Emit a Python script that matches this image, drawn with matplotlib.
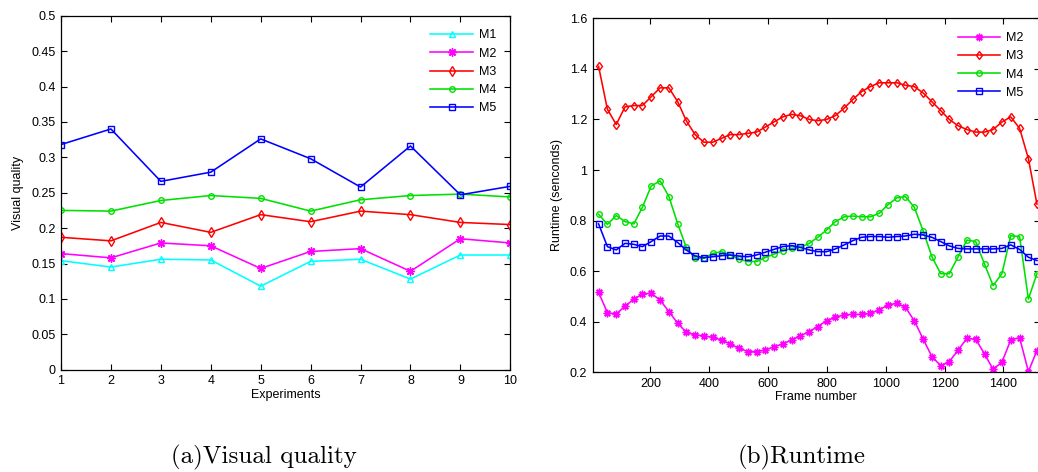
import matplotlib
matplotlib.use("Agg")
import matplotlib.pyplot as plt

# ---------------- data: (a) Visual quality ----------------
experiments = [1, 2, 3, 4, 5, 6, 7, 8, 9, 10]
vq_M1 = [0.154, 0.145, 0.156, 0.155, 0.118, 0.153, 0.156, 0.128, 0.162, 0.162]
vq_M2 = [0.164, 0.158, 0.179, 0.175, 0.143, 0.167, 0.171, 0.139, 0.185, 0.179]
vq_M3 = [0.187, 0.182, 0.208, 0.194, 0.219, 0.209, 0.224, 0.219, 0.208, 0.205]
vq_M4 = [0.225, 0.224, 0.239, 0.246, 0.242, 0.224, 0.240, 0.246, 0.248, 0.244]
vq_M5 = [0.318, 0.340, 0.266, 0.279, 0.326, 0.298, 0.258, 0.316, 0.247, 0.259]

# ---------------- data: (b) Runtime ----------------
frames = [24, 54, 84, 114, 144, 173, 203, 233, 263, 293, 322, 352, 382, 412, 442,
          471, 501, 531, 561, 591, 620, 650, 680, 710, 740, 769, 799, 829, 859, 889,
          918, 948, 978, 1008, 1038, 1067, 1097, 1127, 1157, 1187, 1216, 1246, 1276,
          1306, 1336, 1365, 1395, 1425, 1455, 1485, 1514]
rt_M2 = [0.516, 0.436, 0.430, 0.462, 0.489, 0.510, 0.512, 0.486, 0.440, 0.394,
         0.358, 0.348, 0.344, 0.338, 0.328, 0.312, 0.295, 0.282, 0.282, 0.288,
         0.301, 0.312, 0.328, 0.344, 0.361, 0.381, 0.404, 0.418, 0.427, 0.429,
         0.429, 0.433, 0.447, 0.466, 0.473, 0.457, 0.404, 0.332, 0.262, 0.226,
         0.242, 0.288, 0.334, 0.331, 0.272, 0.212, 0.240, 0.328, 0.337, 0.203, 0.286]
rt_M3 = [1.41, 1.24, 1.18, 1.25, 1.255, 1.255, 1.29, 1.325, 1.325, 1.27,
         1.195, 1.14, 1.11, 1.11, 1.125, 1.14, 1.14, 1.145, 1.15, 1.17,
         1.19, 1.21, 1.22, 1.215, 1.20, 1.195, 1.20, 1.215, 1.245, 1.28,
         1.31, 1.33, 1.345, 1.345, 1.345, 1.335, 1.33, 1.305, 1.27, 1.235,
         1.20, 1.175, 1.16, 1.15, 1.15, 1.16, 1.19, 1.21, 1.165, 1.045, 0.865]
rt_M4 = [0.825, 0.785, 0.820, 0.796, 0.787, 0.853, 0.937, 0.957, 0.895, 0.787,
         0.694, 0.651, 0.651, 0.670, 0.677, 0.664, 0.648, 0.638, 0.638, 0.654,
         0.667, 0.680, 0.690, 0.694, 0.710, 0.734, 0.763, 0.796, 0.815, 0.818,
         0.815, 0.815, 0.829, 0.863, 0.890, 0.895, 0.853, 0.760, 0.657, 0.590,
         0.590, 0.657, 0.723, 0.717, 0.627, 0.543, 0.590, 0.740, 0.737, 0.490, 0.590]
rt_M5 = [0.787, 0.697, 0.684, 0.710, 0.706, 0.697, 0.717, 0.739, 0.739, 0.713,
         0.684, 0.660, 0.653, 0.657, 0.661, 0.664, 0.660, 0.657, 0.664, 0.675,
         0.686, 0.697, 0.701, 0.694, 0.684, 0.677, 0.677, 0.688, 0.704, 0.721,
         0.734, 0.737, 0.737, 0.734, 0.737, 0.739, 0.746, 0.743, 0.734, 0.717,
         0.700, 0.690, 0.688, 0.688, 0.688, 0.688, 0.690, 0.704, 0.686, 0.655, 0.642]

left_yticks = [0, 0.05, 0.1, 0.15, 0.2, 0.25, 0.3, 0.35, 0.4, 0.45, 0.5]
left_yticklabels = ["0", "0.05", "0.1", "0.15", "0.2", "0.25", "0.3", "0.35", "0.4", "0.45", "0.5"]
right_yticks = [0.2, 0.4, 0.6, 0.8, 1.0, 1.2, 1.4, 1.6]
right_yticklabels = ["0.2", "0.4", "0.6", "0.8", "1", "1.2", "1.4", "1.6"]
right_xticks = [200, 400, 600, 800, 1000, 1200, 1400]

plt.rcParams['font.family'] = ['Liberation Sans', 'DejaVu Sans']
FS = 9

W, H = 1038, 472
fig = plt.figure(figsize=(W / 100, H / 100), dpi=100)

ASTER = (8, 2, 0)
C_CYAN, C_MAG, C_RED, C_GRN, C_BLU = "#00FFFF", "#FF00FF", "#FF0000", "#00E000", "#0000FF"


def style(ax):
    ax.tick_params(direction='in', top=True, right=True, length=4, width=0.8,
                   labelsize=FS, pad=4)
    for s in ax.spines.values():
        s.set_linewidth(0.9)


lw = 1.15
# ---------- (a) ----------
ax1 = fig.add_axes([61 / W, (H - 369.7) / H, (510.3 - 61) / W, (369.7 - 15.7) / H])
ax1.plot(experiments, vq_M1, color=C_CYAN, lw=lw, marker='^', ms=5, mfc='none', mew=1.0, label='M1')
ax1.plot(experiments, vq_M2, color=C_MAG, lw=lw, marker=ASTER, ms=6, mew=1.0, label='M2')
ax1.plot(experiments, vq_M3, color=C_RED, lw=lw, marker='d', ms=5, mfc='none', mew=1.0, label='M3')
ax1.plot(experiments, vq_M4, color=C_GRN, lw=lw, marker='o', ms=4, mfc='none', mew=1.0, label='M4')
ax1.plot(experiments, vq_M5, color=C_BLU, lw=lw, marker='s', ms=5, mfc='none', mew=1.0, label='M5')
ax1.set_xlim(1, 10)
ax1.set_ylim(0, 0.5)
ax1.set_xticks(experiments)
ax1.set_yticks(left_yticks)
ax1.set_yticklabels(left_yticklabels)
ax1.set_xlabel("Experiments", fontsize=FS, labelpad=1)
ax1.set_ylabel("Visual quality", fontsize=FS, labelpad=5)
style(ax1)
ax1.legend(loc='upper right', bbox_to_anchor=(1.0, 1.0), frameon=False, fontsize=FS,
           handlelength=3.4, handletextpad=0.5, labelspacing=0.5, borderaxespad=0.7)

# ---------- (b) ----------
xmin, xmax = 4, 1523
pxper = 0.2942
ax2 = fig.add_axes([592.7 / W, (H - 372.3) / H, (xmax - xmin) * pxper / W, (372.3 - 18.3) / H])
ax2.plot(frames, rt_M2, color=C_MAG, lw=lw, marker=ASTER, ms=5.5, mew=1.0, label='M2')
ax2.plot(frames, rt_M3, color=C_RED, lw=lw, marker='d', ms=4.5, mfc='none', mew=1.0, label='M3')
ax2.plot(frames, rt_M4, color=C_GRN, lw=lw, marker='o', ms=4, mfc='none', mew=1.0, label='M4')
ax2.plot(frames, rt_M5, color=C_BLU, lw=lw, marker='s', ms=4.2, mfc='none', mew=1.0, label='M5')
ax2.set_xlim(xmin, xmax)
ax2.set_ylim(0.2, 1.6)
ax2.set_xticks(right_xticks)
ax2.set_yticks(right_yticks)
ax2.set_yticklabels(right_yticklabels)
ax2.set_xlabel("Frame number", fontsize=FS, labelpad=1)
ax2.set_ylabel("Runtime (senconds)", fontsize=FS, labelpad=5)
style(ax2)
ax2.legend(loc='upper right', bbox_to_anchor=((1037.5 - 592.7) / ((xmax - xmin) * pxper), 1.0),
           frameon=False, fontsize=FS,
           handlelength=3.4, handletextpad=0.5, labelspacing=0.5, borderaxespad=0.7)

# ---------- captions ----------
fig.text(264 / W, 1 - 457 / H, "(a)Visual quality", family=['cmr10', 'DejaVu Serif'],
         fontsize=18, ha='center', va='center')
fig.text(802 / W, 1 - 457 / H, "(b)Runtime", family=['cmr10', 'DejaVu Serif'],
         fontsize=18, ha='center', va='center')

fig.savefig("out.png", dpi=100)
